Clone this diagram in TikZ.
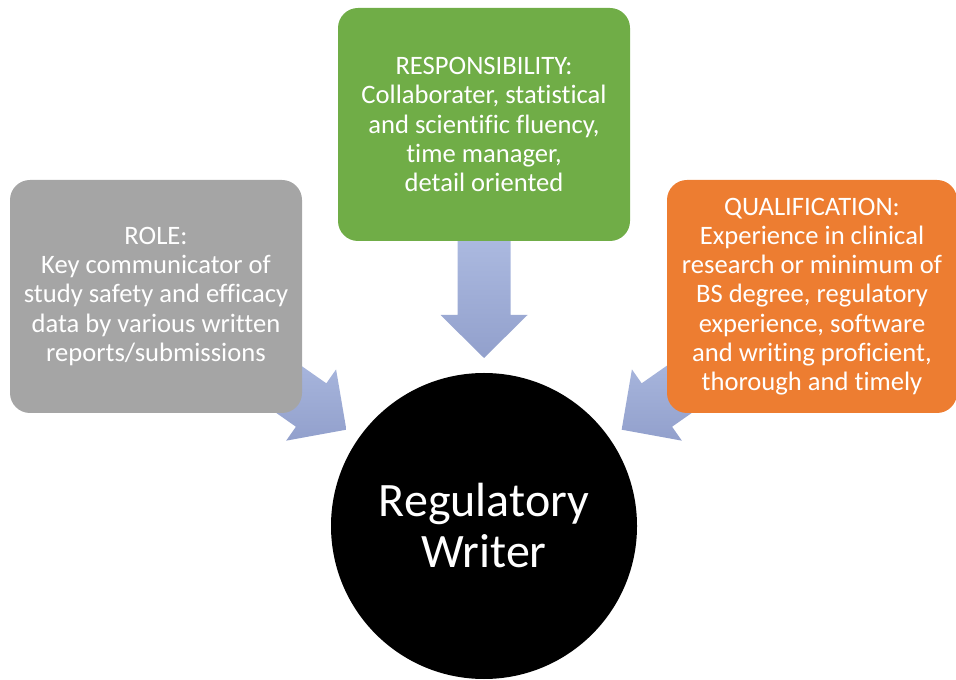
\documentclass[tikz,border=0pt]{standalone}
\usepackage{fontspec}
\setmainfont{Carlito}[Ligatures=NoCommon]
\usetikzlibrary{calc,backgrounds}

\definecolor{rolegray}{HTML}{A5A5A5}
\definecolor{respgreen}{HTML}{70AD47}
\definecolor{qualorange}{HTML}{ED7D31}
\definecolor{arrowtop}{RGB}{182,196,232}
\definecolor{arrowbot}{RGB}{146,160,204}

% block arrow pointing from a card towards the writer
\newcommand\feedarrow[2]{%
  \begin{scope}[shift={($(writer)!84pt!(#1)$)},rotate=#2]
    \path[blockarrow] (0,0) -- (-43,43.5) -- (-43,26.5) -- (-170,26.5)
      -- (-170,-26.5) -- (-43,-26.5) -- (-43,-43.5) -- cycle;
  \end{scope}}

\begin{document}
\begin{tikzpicture}[x=0.5pt,y=0.5pt,
    card/.style={rounded corners=10pt,minimum width=146pt,minimum height=116.5pt,
                 align=center,text=white,inner sep=0pt,
                 font=\fontsize{13.3}{14.6}\selectfont},
    blockarrow/.style={top color=arrowtop,bottom color=arrowbot},
    hub/.style={circle,fill=black,minimum size=153pt,inner sep=0pt,align=center,
                text=white,font=\fontsize{24}{25.5}\selectfont}]
  \useasboundingbox (0,0) rectangle (956,679);

  \node[hub] (writer) at (484,153) {Regulatory\\Writer};
  \node[card,fill=respgreen] (resp) at (484,554.5)
    {RESPONSIBILITY:\\Collaborater, statistical\\and scientific fluency,\\time manager,\\detail oriented};
  \node[card,fill=rolegray] (role) at (156,382.5)
    {ROLE:\\Key communicator of\\study safety and efficacy\\data by various written\\reports/submissions};
  \node[card,fill=qualorange,minimum width=145pt] (qual) at (812,382.5)
    {QUALIFICATION:\\Experience in clinical\\research or minimum of\\BS degree, regulatory\\experience, software\\and writing proficient,\\thorough and timely};

  \begin{pgfonlayer}{background}
    \feedarrow{resp}{-90}
    \feedarrow{role}{-35}
    \feedarrow{qual}{215}
  \end{pgfonlayer}
\end{tikzpicture}
\end{document}
